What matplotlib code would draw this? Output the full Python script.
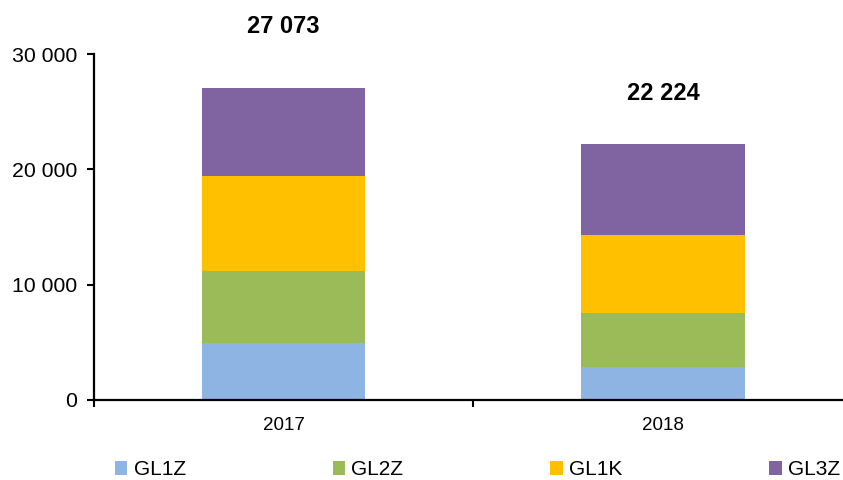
import numpy as np
import matplotlib.pyplot as plt
from matplotlib.ticker import FuncFormatter, FixedLocator

# -------------------------
# DATA
# -------------------------

years = ["2017", "2018"]
series = ["GL1Z", "GL2Z", "GL1K", "GL3Z"]
gl1z = [4930, 2850]
gl2z = [6230, 4680]
gl1k = [8300, 6740]
gl3z = [7613, 7954]
totals = [27073, 22224]

colors = ["#8EB4E3", "#9BBB59", "#FFC000", "#8064A2"]

plt.rcParams['font.family'] = ['Liberation Sans', 'DejaVu Sans']

fig = plt.figure(figsize=(8.43, 4.8), dpi=100)
ax = fig.add_axes([0.1115, 0.1667, 0.9, 0.7208])

x = np.arange(len(years))
bottom = np.zeros(len(years))
handles = []
for name, vals, c in zip(series, [gl1z, gl2z, gl1k, gl3z], colors):
    b = ax.bar(x, vals, width=0.43, bottom=bottom, color=c, label=name)
    handles.append(b)
    bottom += np.array(vals)

# totals above bars
for xi, t in zip(x, totals):
    ax.text(xi, t * 1.197, f"{t:,}".replace(",", " "), ha="center", va="center",
            fontsize=17, fontweight="bold", clip_on=False)

ax.set_xlim(-0.5, 1.5)
ax.set_ylim(0, 30000)
ax.set_yticks([0, 10000, 20000, 30000])
ax.yaxis.set_major_formatter(FuncFormatter(lambda v, p: f"{int(v):,}".replace(",", " ")))
ax.set_xticks(x)
ax.set_xticklabels(years)
ax.xaxis.set_minor_locator(FixedLocator([-0.5, 0.5, 1.5]))

ax.tick_params(axis="y", direction="out", length=5, width=1.5, pad=7, labelsize=15.3)
ax.tick_params(axis="x", which="major", length=0, pad=12, labelsize=13.5)
ax.tick_params(axis="x", which="minor", direction="out", length=5, width=1.5)

for s in ["top", "right"]:
    ax.spines[s].set_visible(False)
for s in ["left", "bottom"]:
    ax.spines[s].set_linewidth(1.6)

fig.legend(handles=handles, labels=series, loc="center left", ncol=4,
           bbox_to_anchor=(0.124, 0.021), frameon=False, fontsize=15,
           handlelength=0.6, handleheight=0.6, handletextpad=0.3,
           columnspacing=7.05, borderpad=0)

fig.savefig("out.png", dpi=100)
